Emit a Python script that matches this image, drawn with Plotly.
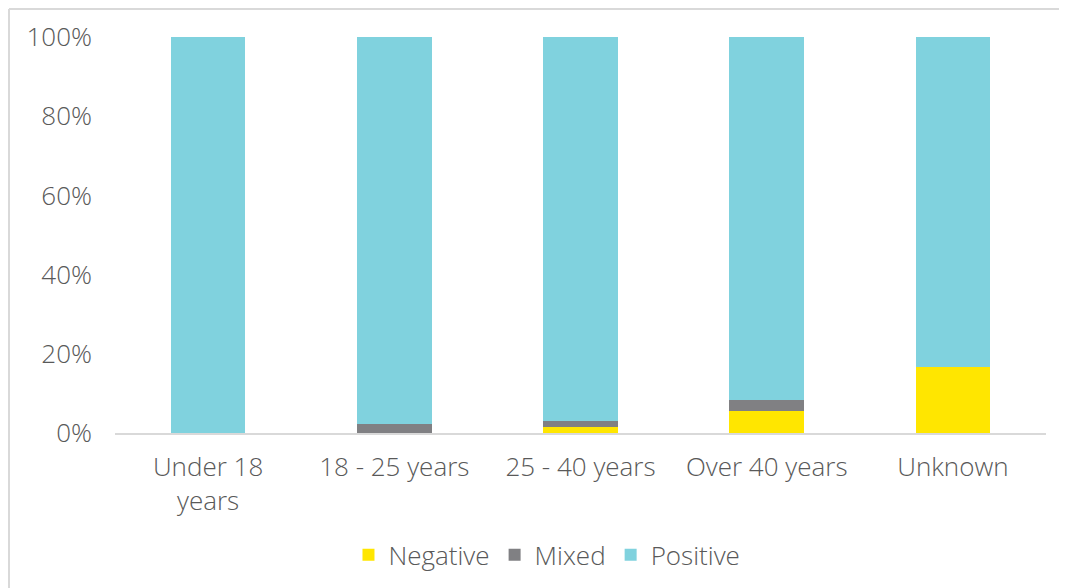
import plotly.graph_objects as go

categories = ["Under 18<br>years", "18 - 25 years", "25 - 40 years", "Over 40 years", "Unknown"]
negative = [0.0, 0.0, 1.4, 5.6, 16.7]
mixed = [0.0, 2.3, 1.7, 2.8, 0.0]
positive = [100 - n - m for n, m in zip(negative, mixed)]
ytick_vals = [0, 20, 40, 60, 80, 100]
ytick_text = ["0%", "20%", "40%", "60%", "80%", "100%"]

series = [
    ("Negative", negative, "#FFE600"),
    ("Mixed", mixed, "#808083"),
    ("Positive", positive, "#80D2DE"),
]

fig = go.Figure()
for name, vals, color in series:
    fig.add_trace(go.Bar(x=categories, y=vals, name=name, marker=dict(color=color, line=dict(width=0))))

font = dict(family="Open Sans, Roboto, sans-serif", size=26, color="#595959", weight=300)
fig.update_layout(
    barmode="stack",
    bargap=0.6,
    width=1067, height=588,
    margin=dict(l=107, r=29, t=29, b=163),
    plot_bgcolor="white", paper_bgcolor="white",
    font=font,
    showlegend=True,
    legend=dict(orientation="h", x=0.464, xanchor="center", y=-0.308, yanchor="middle",
                traceorder="normal", font=font, itemwidth=30),
    xaxis=dict(showline=True, linecolor="#D9D9D9", linewidth=2, ticks="", showgrid=False,
               ticklabelstandoff=10, automargin=False),
    yaxis=dict(range=[0, 100], tickmode="array", tickvals=ytick_vals, ticktext=ytick_text,
               showgrid=False, zeroline=False, ticks="", ticklabelstandoff=22, automargin=False),
)
# chart-area border (top and left edges visible in the reference)
top = 1 + 28 / 396
left = -106 / 931
fig.add_shape(type="line", xref="paper", yref="paper", x0=left, x1=1.05, y0=top, y1=top,
              line=dict(color="#D9D9D9", width=2))
fig.add_shape(type="line", xref="paper", yref="paper", x0=left, x1=left, y0=top, y1=-0.45,
              line=dict(color="#D9D9D9", width=2))
fig.write_html("out.html")
